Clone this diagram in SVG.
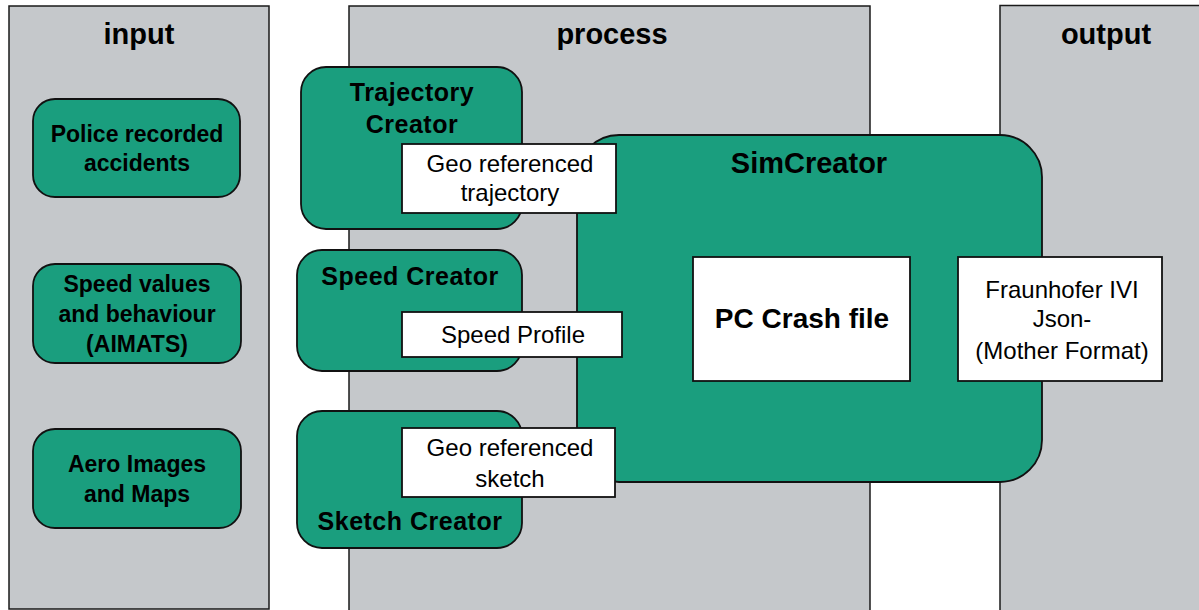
<svg xmlns="http://www.w3.org/2000/svg" width="1199" height="610" viewBox="0 0 1199 610">
<style>
.col{fill:#C5C8CB;stroke:#1a1a1a;stroke-width:1.5}
.grn{fill:#1A9E7E;stroke:#111;stroke-width:1.8}
.wht{fill:#fff;stroke:#111;stroke-width:1.8}
.t{font-family:"Liberation Sans",Arial,sans-serif;text-anchor:middle;fill:#000}
.b{font-weight:bold}
.h{font-size:29px;font-weight:bold}
.n{font-size:23px;font-weight:bold}
.c{font-size:25px;font-weight:bold;letter-spacing:0.5px}
.r{font-size:24px}
</style>
<rect width="1199" height="610" fill="#fff"/>
<g id="col-input"><rect class="col" x="9" y="6" width="260" height="603"/><text class="t h" x="139" y="44">input</text></g>
<g id="col-process"><rect class="col" x="349" y="6" width="521" height="610"/><text class="t h" x="612" y="44">process</text></g>
<g id="col-output"><rect class="col" x="1000" y="5.5" width="210" height="610"/><text class="t h" x="1106" y="44">output</text></g>

<g id="police"><rect class="grn" x="33" y="99" width="207" height="98" rx="22"/><text class="t n" x="137" y="142">Police recorded</text><text class="t n" x="137" y="171">accidents</text></g>
<g id="speedvalues"><rect class="grn" x="33" y="264" width="208" height="99" rx="22"/><text class="t n" x="137" y="292">Speed values</text><text class="t n" x="137" y="322">and behaviour</text><text class="t n" x="137" y="352">(AIMATS)</text></g>
<g id="aero"><rect class="grn" x="33" y="429" width="208" height="99" rx="22"/><text class="t n" x="137" y="472">Aero Images</text><text class="t n" x="137" y="502">and Maps</text></g>

<g id="simcreator"><rect class="grn" x="577" y="135" width="465" height="347" rx="42"/><text class="t b" style="font-size:29px" x="809" y="173">SimCreator</text></g>

<g id="trajectory-creator"><rect class="grn" x="301" y="67" width="221" height="162" rx="25"/><text class="t c" x="412" y="101">Trajectory</text><text class="t c" x="412" y="133">Creator</text></g>
<g id="speed-creator"><rect class="grn" x="297" y="250" width="225" height="121" rx="25"/><text class="t c" x="410" y="285">Speed Creator</text></g>
<g id="sketch-creator"><rect class="grn" x="297" y="411" width="225" height="137" rx="25"/><text class="t c" x="410" y="530">Sketch Creator</text></g>

<g id="geo-trajectory"><rect class="wht" x="402" y="144" width="214" height="69"/><text class="t r" x="510" y="172">Geo referenced</text><text class="t r" x="510" y="201">trajectory</text></g>
<g id="speed-profile"><rect class="wht" x="402" y="312" width="220" height="45"/><text class="t r" x="513" y="343">Speed Profile</text></g>
<g id="geo-sketch"><rect class="wht" x="402" y="428" width="213" height="69"/><text class="t r" x="510" y="456">Geo referenced</text><text class="t r" x="510" y="487">sketch</text></g>
<g id="pccrash"><rect class="wht" x="693" y="257" width="217" height="124"/><text class="t b" style="font-size:28px" x="802" y="328">PC Crash file</text></g>
<g id="fraunhofer"><rect class="wht" x="958" y="257" width="204" height="124"/><text class="t r" x="1062" y="298">Fraunhofer IVI</text><text class="t r" x="1062" y="327">Json-</text><text class="t r" x="1062" y="359">(Mother Format)</text></g>

<g id="connectors"></g>
</svg>
